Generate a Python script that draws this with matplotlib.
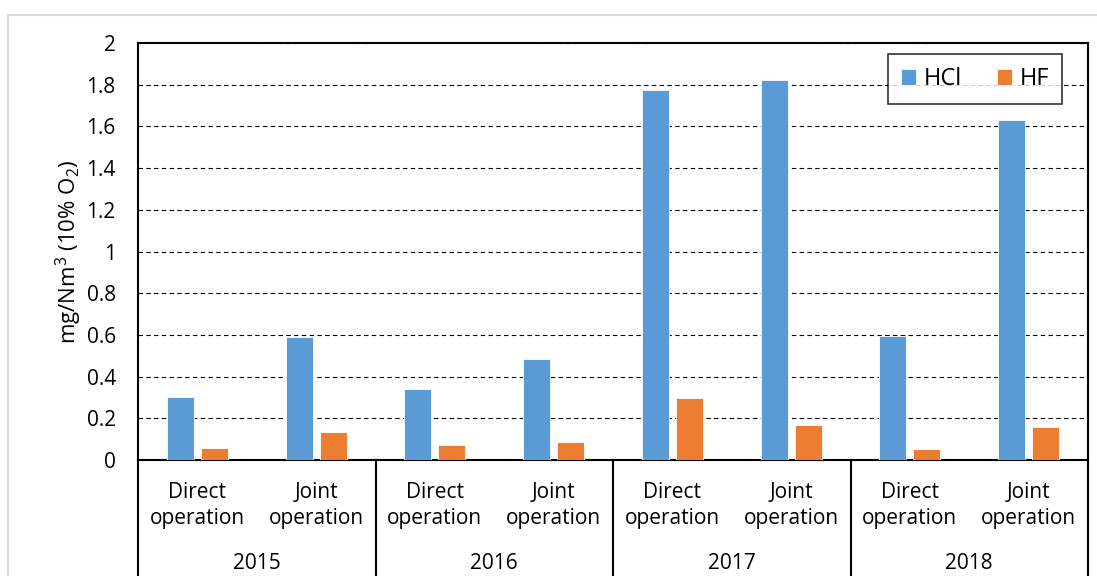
import matplotlib
matplotlib.use('Agg')
import matplotlib.pyplot as plt
from matplotlib.patches import Rectangle
import numpy as np

# data
years = ['2015', '2016', '2017', '2018']
modes = ['Direct\noperation', 'Joint\noperation']
hcl = [0.30, 0.59, 0.34, 0.485, 1.775, 1.823, 0.595, 1.63]
hf = [0.058, 0.136, 0.072, 0.086, 0.297, 0.168, 0.053, 0.158]

plt.rcParams['font.family'] = ['Open Sans', 'DejaVu Sans']
plt.rcParams['mathtext.fontset'] = 'custom'
plt.rcParams['mathtext.rm'] = 'Open Sans'
plt.rcParams['mathtext.it'] = 'Open Sans'
plt.rcParams['font.size'] = 15

W, H = 1097, 576
fig = plt.figure(figsize=(W / 100, H / 100), dpi=100)
ax = fig.add_axes([138 / W, 1 - 460 / H, (1088 - 138) / W, (460 - 43) / H])

# light grey outer frame of the chart object
fig.add_artist(Rectangle((8 / W, -0.1), 1.2, 1.1 - 15 / H, transform=fig.transFigure,
                         fill=False, edgecolor='#d9d9d9', lw=1.5))

x = np.arange(len(hcl)) + 0.5
ax.bar(x - 0.143, hcl, width=0.228, color='#5b9bd5', edgecolor='white', lw=0.6,
       label='HCl', zorder=3)
ax.bar(x + 0.143, hf, width=0.228, color='#ed7d31', edgecolor='white', lw=0.6,
       label='HF', zorder=3)

ax.set_xlim(0, 8)
ax.set_ylim(0, 2)
ax.set_yticks(np.arange(0, 2.01, 0.2))
ax.set_yticklabels(['0', '0.2', '0.4', '0.6', '0.8', '1', '1.2', '1.4', '1.6', '1.8', '2'])
ax.tick_params(axis='y', length=0, pad=16, labelsize=15)
ax.set_xticks([])
ax.yaxis.grid(True, color='black', lw=0.8, linestyle=(0, (4, 3)), zorder=1)
for s in ax.spines.values():
    s.set_linewidth(1.5)

ax.set_ylabel('mg/Nm$^3$ (10% O$_2$)', labelpad=2, fontsize=16)

# two-level category axis
for i, xc in enumerate(x):
    ax.annotate(modes[i % 2], (xc, 0), xycoords=('data', 'axes fraction'),
                xytext=(0, -16), textcoords='offset points', ha='center', va='top',
                linespacing=1.3)
for j, yr in enumerate(years):
    ax.annotate(yr, (2 * j + 1, 0), xycoords=('data', 'axes fraction'),
                xytext=(0, -67), textcoords='offset points', ha='center', va='top')
for b in range(0, 9, 2):
    ax.plot([b, b], [0, -0.35], color='black', lw=1.5, transform=ax.get_xaxis_transform(),
            clip_on=False)

leg = ax.legend(loc='upper right', bbox_to_anchor=(0.9726, 0.9736), borderaxespad=0,
                ncol=2, frameon=True, fancybox=False, handlelength=0.65, handleheight=0.65,
                handletextpad=0.3, columnspacing=1.5, borderpad=0.55, fontsize=17)
leg.get_frame().set_edgecolor('black')
leg.get_frame().set_linewidth(1.2)

fig.savefig('out.png', dpi=100)
